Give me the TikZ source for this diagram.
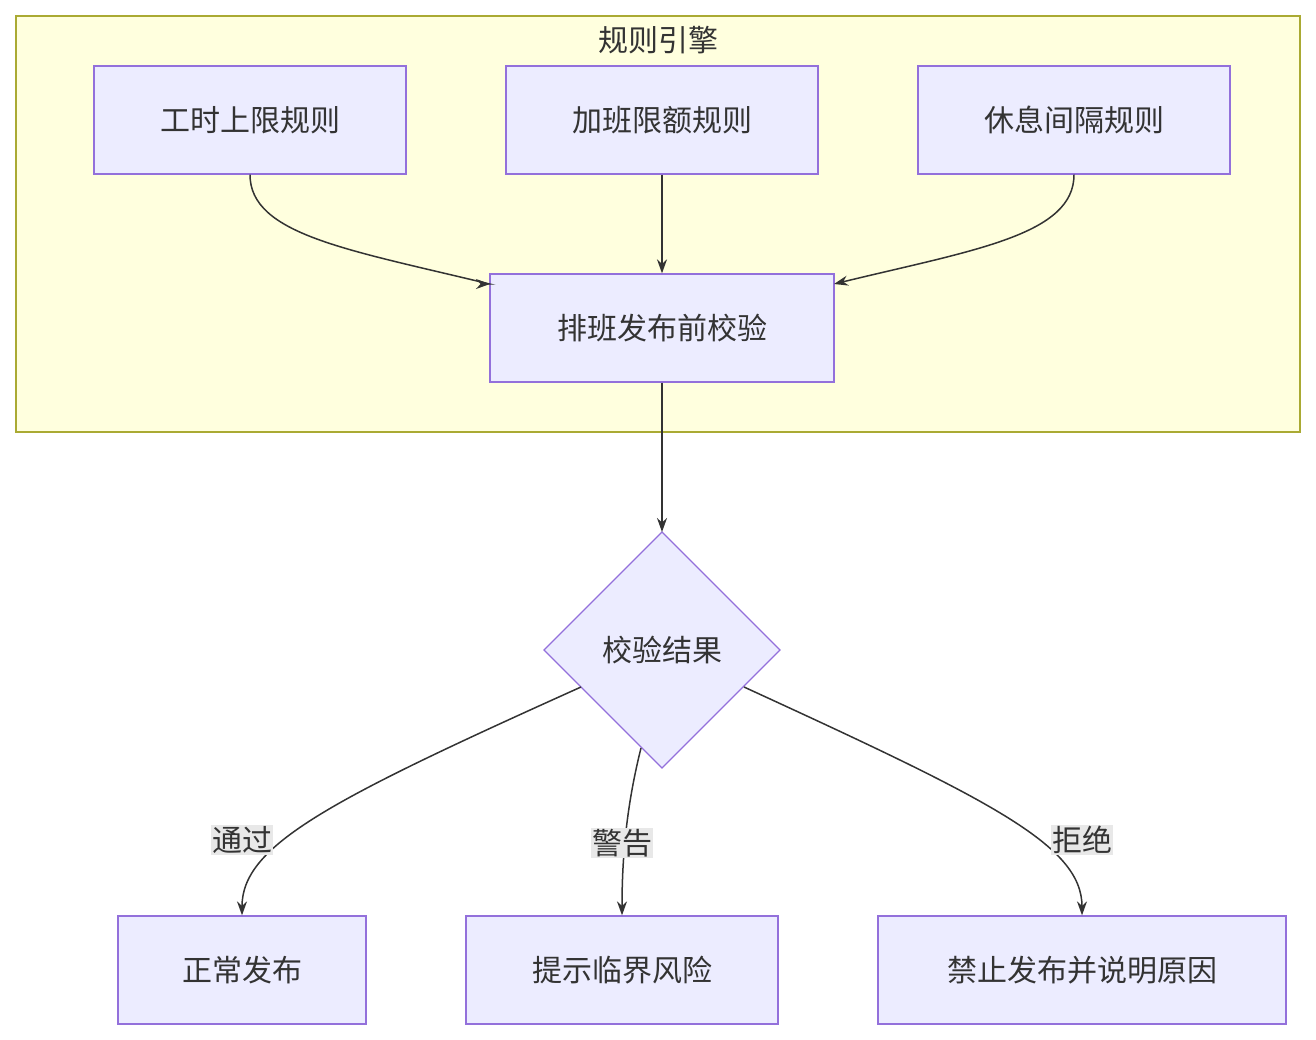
\documentclass[tikz,border=0pt]{standalone}
\usepackage{fontspec}
\setmainfont{Noto Sans CJK SC}
\usetikzlibrary{arrows.meta}
\definecolor{nodefill}{HTML}{ECECFF}
\definecolor{nodestroke}{HTML}{9370DB}
\definecolor{clfill}{HTML}{FFFFDE}
\definecolor{clstroke}{HTML}{AAAA33}
\definecolor{txt}{HTML}{333333}
\definecolor{lblbg}{HTML}{E8E8E8}
\begin{document}
\begin{tikzpicture}[x=1pt,y=-1pt,
  box/.style={draw=nodestroke,fill=nodefill,line width=1.3pt,text=txt,font=\fontsize{30}{34}\selectfont},
  edge/.style={draw=txt,line width=1.5pt,-{Stealth[length=14pt,width=10pt]}},
  lbl/.style={fill=lblbg,text=txt,inner sep=1pt,font=\fontsize{30}{34}\selectfont}]
\useasboundingbox (0,0) rectangle (1316,1040);
\draw[fill=clfill,draw=clstroke,line width=1.3pt] (16,16) rectangle (1300,432);
\node[text=txt,font=\fontsize{30}{34}\selectfont] (title) at (658,40) {规则引擎};
\node[box,minimum width=312pt,minimum height=108pt] (a) at (250,120) {工时上限规则};
\node[box,minimum width=312pt,minimum height=108pt] (b) at (662,120) {加班限额规则};
\node[box,minimum width=312pt,minimum height=108pt] (c) at (1074,120) {休息间隔规则};
\node[box,minimum width=344pt,minimum height=108pt] (d) at (662,328) {排班发布前校验};
\draw[draw=nodestroke,fill=nodefill,line width=1.3pt] (662,532) -- (780,650) -- (662,768) -- (544,650) -- cycle;
\node[text=txt,font=\fontsize{30}{34}\selectfont] (q) at (662,650) {校验结果};
\coordinate (q1) at (581,687);
\coordinate (q2) at (641,748);
\coordinate (q3) at (744,687);
\coordinate (qt) at (662,532);
\node[box,minimum width=248pt,minimum height=108pt] (e) at (242,970) {正常发布};
\node[box,minimum width=312pt,minimum height=108pt] (f) at (622,970) {提示临界风险};
\node[box,minimum width=408pt,minimum height=108pt] (g) at (1082,970) {禁止发布并说明原因};
\draw[edge] (a.south) .. controls (250,235) and (350,250) .. (d.north west |- 0,284) -- (490,284);
\draw[edge] (b.south) -- (d.north);
\draw[edge] (c.south) .. controls (1074,235) and (974,250) .. (834,284);
\draw[edge] (d.south) -- (qt);
\draw[edge] (q1) .. controls (330,800) and (242,845) .. (e.north);
\draw[edge] (q2) .. controls (628,800) and (622,850) .. (f.north);
\draw[edge] (q3) .. controls (990,800) and (1082,845) .. (g.north);
\node[lbl] (l1) at (242,840) {通过};
\node[lbl] (l2) at (622,843) {警告};
\node[lbl] (l3) at (1082,840) {拒绝};
\end{tikzpicture}
\end{document}
